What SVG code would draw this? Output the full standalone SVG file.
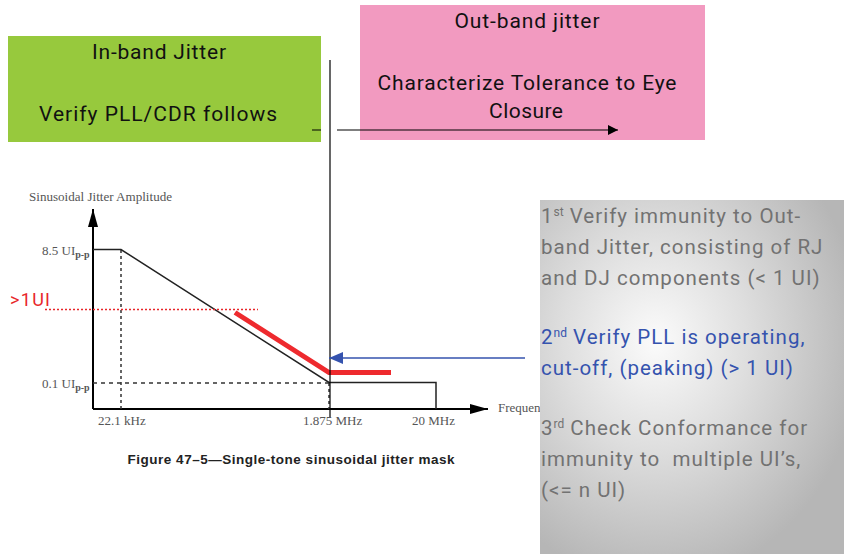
<svg xmlns="http://www.w3.org/2000/svg" width="844" height="554" viewBox="0 0 844 554">
<style>
.box{font-family:Roboto,"Liberation Sans",sans-serif;font-size:21px;fill:#111;text-anchor:middle}
.ax{font-family:"Liberation Serif",serif;font-size:13px;fill:#555}
.sub{font-size:10px;font-weight:bold}
.note{font-family:Roboto,"Liberation Sans",sans-serif;font-size:20.5px;letter-spacing:1px;fill:#727272}
.blue{fill:#3553ae}
.sup{font-size:12px;letter-spacing:0}
.mask{fill:none;stroke:#222;stroke-width:1.5}
</style>
<defs>
<marker id="ahBlack" viewBox="0 0 10 10" refX="10" refY="5" markerWidth="10" markerHeight="10" markerUnits="userSpaceOnUse" orient="auto"><path d="M0,0 L10,5 L0,10 Z" fill="#000"/></marker>
<marker id="ahAxis" viewBox="0 0 18 10" refX="18" refY="5" markerWidth="18" markerHeight="10" markerUnits="userSpaceOnUse" orient="auto"><path d="M0,0 L18,5 L0,10 Z" fill="#000"/></marker>
<marker id="ahBlue" viewBox="0 0 14 12" refX="14" refY="6" markerWidth="14" markerHeight="12" markerUnits="userSpaceOnUse" orient="auto"><path d="M0,0 L14,6 L0,12 Z" fill="#3553ae"/></marker>
<radialGradient id="grayGrad" cx="0.38" cy="0.4" r="0.68">
<stop offset="0" stop-color="#fbfbfb"/>
<stop offset="0.45" stop-color="#dedede"/>
<stop offset="1" stop-color="#b6b6b6"/>
</radialGradient>
</defs>
<rect width="844" height="554" fill="#fff"/>

<g id="in-band">
<rect x="8" y="36" width="313" height="106" fill="#97c93d"/>
<text class="box" x="159" y="59" textLength="134">In-band Jitter</text>
<text class="box" x="158" y="121" textLength="238">Verify PLL/CDR follows</text>
</g>

<g id="out-band">
<rect x="360" y="5" width="345" height="135" fill="#f29ac0"/>
<text class="box" x="527" y="28" textLength="145">Out-band jitter</text>
<text class="box" x="527" y="90" textLength="299">Characterize Tolerance to Eye</text>
<text class="box" x="526" y="118" textLength="74">Closure</text>
</g>

<g id="chart">
<text class="ax" x="29" y="201" textLength="143" lengthAdjust="spacingAndGlyphs">Sinusoidal Jitter Amplitude</text>
<line x1="93" y1="409" x2="93" y2="209" stroke="#000" stroke-width="2" marker-end="url(#ahAxis)"/>
<line x1="93" y1="409" x2="488" y2="409" stroke="#000" stroke-width="2" marker-end="url(#ahAxis)"/>
<line x1="121" y1="250" x2="121" y2="409" stroke="#333" stroke-width="1.5" stroke-dasharray="3,3"/>
<line x1="93" y1="383" x2="329" y2="383" stroke="#333" stroke-width="1.5" stroke-dasharray="4,4"/>
<line x1="329" y1="383" x2="329" y2="409" stroke="#333" stroke-width="1.5" stroke-dasharray="3,3"/>
<polyline class="mask" points="93,249.5 121,249.5 329,382.5 436,382.5 436,409"/>
<text class="ax" x="42" y="255">8.5 UI<tspan class="sub" dy="3">p-p</tspan></text>
<text class="ax" x="42" y="388">0.1 UI<tspan class="sub" dy="3">p-p</tspan></text>
<text class="ax" x="98" y="425">22.1 kHz</text>
<text class="ax" x="303" y="425">1.875 MHz</text>
<text class="ax" x="412" y="425">20 MHz</text>
<text class="ax" x="498" y="412">Frequency</text>
<text x="10" y="306" font-family="Roboto,'Liberation Sans',sans-serif" font-size="18" fill="#e8262a" textLength="40">&gt;1UI</text>
<line x1="45" y1="309.5" x2="258" y2="309.5" stroke="#e8262a" stroke-width="1.5" stroke-dasharray="2,2"/>
<polyline points="235,312.5 329,372.5 391,372.5" fill="none" stroke="#ee2a2e" stroke-width="5"/>
<text x="291" y="464" text-anchor="middle" font-family="'Liberation Sans',Arial,sans-serif" font-size="13.5" font-weight="bold" fill="#222" textLength="327">Figure 47–5—Single-tone sinusoidal jitter mask</text>
</g>

<g id="connectors">
<line x1="330" y1="60" x2="330" y2="417" stroke="#000" stroke-width="1.2"/>
<line x1="312" y1="130" x2="321" y2="130" stroke="#000" stroke-width="1"/>
<line x1="337" y1="130" x2="618" y2="130" stroke="#000" stroke-width="1.2" marker-end="url(#ahBlack)"/>
<line x1="525" y1="358" x2="329" y2="358" stroke="#3553ae" stroke-width="1.5" marker-end="url(#ahBlue)"/>
</g>

<g id="notes">
<rect x="540" y="200" width="304" height="354" fill="url(#grayGrad)"/>
<text class="note" x="541" y="223">1<tspan class="sup" dy="-7">st</tspan><tspan dy="7"> Verify immunity to Out-</tspan></text>
<text class="note" x="541" y="254">band Jitter, consisting of RJ</text>
<text class="note" x="541" y="285">and DJ components (&lt; 1 UI)</text>
<text class="note blue" x="541" y="344">2<tspan class="sup" dy="-7">nd</tspan><tspan dy="7"> Verify PLL is operating,</tspan></text>
<text class="note blue" x="541" y="375">cut-off, (peaking) (&gt; 1 UI)</text>
<text class="note" x="541" y="435">3<tspan class="sup" dy="-7">rd</tspan><tspan dy="7"> Check Conformance for</tspan></text>
<text class="note" x="541" y="466" xml:space="preserve">immunity to  multiple UI’s,</text>
<text class="note" x="541" y="497">(&lt;= n UI)</text>
</g>
</svg>
